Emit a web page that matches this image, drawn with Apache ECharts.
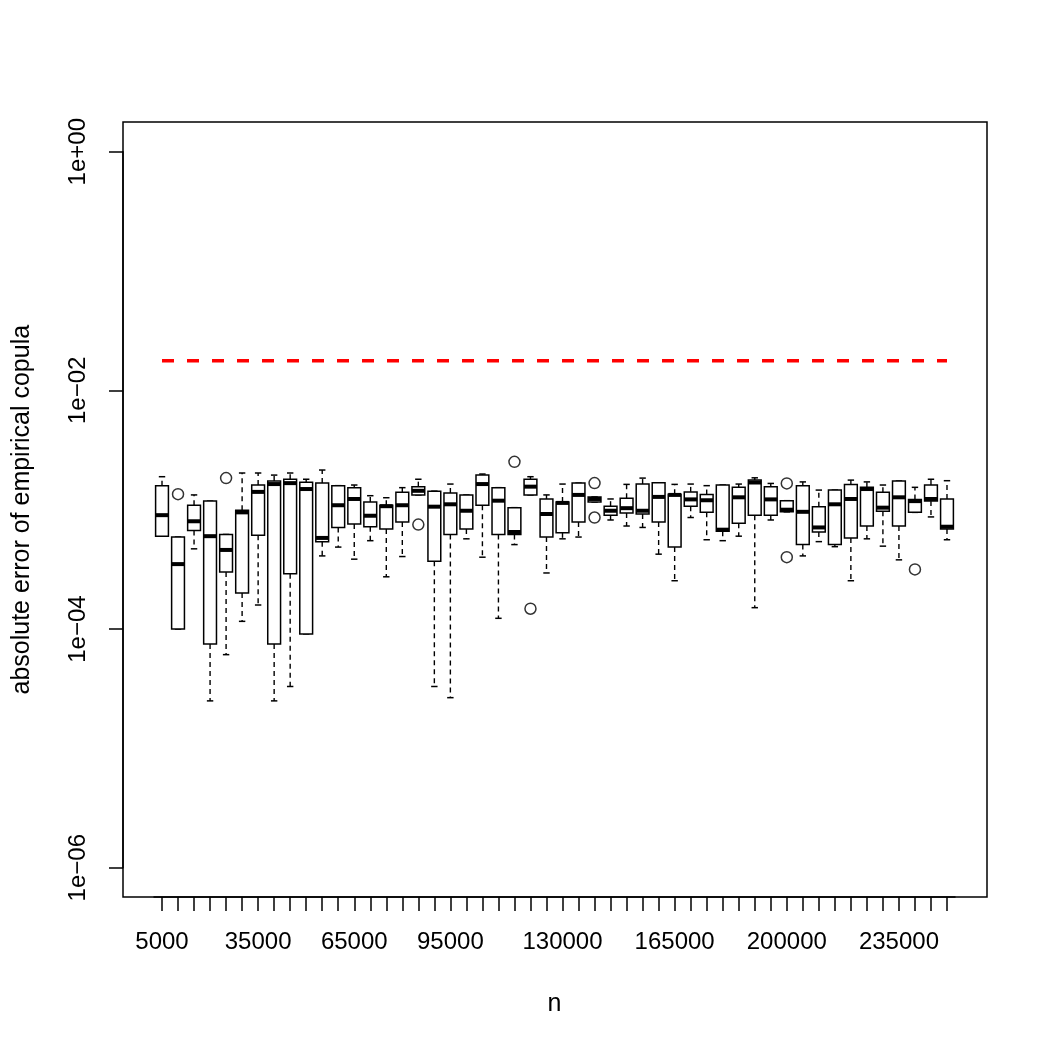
<!DOCTYPE html>
<html>
<head>
<meta charset="utf-8">
<script src="https://cdn.jsdelivr.net/npm/echarts@6/dist/echarts.min.js"></script>
<style>
  html, body { margin: 0; padding: 0; background: #fff; }
  #chart { width: 1050px; height: 1050px; }
</style>
</head>
<body>
<div id="chart"></div>
<script>
// sample sizes (one box per n)
const nValues = ['5000', '10000', '15000', '20000', '25000', '30000', '35000', '40000', '45000', '50000',
  '55000', '60000', '65000', '70000', '75000', '80000', '85000', '90000', '95000', '100000',
  '105000', '110000', '115000', '120000', '125000', '130000', '135000', '140000', '145000', '150000',
  '155000', '160000', '165000', '170000', '175000', '180000', '185000', '190000', '195000', '200000',
  '205000', '210000', '215000', '220000', '225000', '230000', '235000', '240000', '245000', '250000'];
// labels R kept on the x axis
const shownLabels = ['5000', '35000', '65000', '95000', '130000', '165000', '200000', '235000'];

// box statistics
const lowerWhisker = [6.0e-4, 1.0e-4, 4.7e-4, 2.5e-5, 6.1e-5, 1.16e-4, 1.59e-4, 2.5e-5, 3.3e-5, 9.1e-5,
  4.1e-4, 4.86e-4, 3.85e-4, 5.5e-4, 2.74e-4, 4.05e-4, 1.33e-3, 3.3e-5, 2.66e-5, 5.7e-4,
  4.0e-4, 1.23e-4, 5.1e-4, 1.33e-3, 2.95e-4, 5.7e-4, 5.9e-4, 1.16e-3, 8.2e-4, 7.3e-4,
  7.1e-4, 4.24e-4, 2.54e-4, 8.6e-4, 5.6e-4, 5.5e-4, 6.0e-4, 1.51e-4, 8.2e-4, 9.6e-4,
  4.1e-4, 5.4e-4, 4.9e-4, 2.54e-4, 5.7e-4, 4.95e-4, 3.8e-4, 9.5e-4, 8.7e-4, 5.6e-4];
const q1 = [6.0e-4, 1.0e-4, 6.7e-4, 7.5e-5, 3.0e-4, 2.0e-4, 6.1e-4, 7.5e-5, 2.9e-4, 9.1e-5,
  5.4e-4, 7.1e-4, 7.6e-4, 7.2e-4, 6.9e-4, 7.9e-4, 1.33e-3, 3.7e-4, 6.2e-4, 6.9e-4,
  1.09e-3, 6.2e-4, 6.2e-4, 1.33e-3, 5.9e-4, 6.4e-4, 7.9e-4, 1.16e-3, 9.0e-4, 9.4e-4,
  9.2e-4, 7.9e-4, 4.86e-4, 1.07e-3, 9.5e-4, 6.6e-4, 7.7e-4, 9.0e-4, 9.0e-4, 9.6e-4,
  5.1e-4, 6.5e-4, 5.1e-4, 5.8e-4, 7.3e-4, 9.7e-4, 7.3e-4, 9.5e-4, 1.18e-3, 6.9e-4];
const median = [9.0e-4, 3.5e-4, 8.0e-4, 6.0e-4, 4.6e-4, 9.5e-4, 1.41e-3, 1.64e-3, 1.67e-3, 1.49e-3,
  5.8e-4, 1.09e-3, 1.23e-3, 8.9e-4, 1.07e-3, 1.09e-3, 1.44e-3, 1.06e-3, 1.11e-3, 9.8e-4,
  1.64e-3, 1.19e-3, 6.5e-4, 1.56e-3, 9.2e-4, 1.14e-3, 1.33e-3, 1.23e-3, 9.8e-4, 1.03e-3,
  9.8e-4, 1.28e-3, 1.33e-3, 1.22e-3, 1.20e-3, 6.8e-4, 1.27e-3, 1.69e-3, 1.22e-3, 1.0e-3,
  9.6e-4, 7.1e-4, 1.11e-3, 1.23e-3, 1.49e-3, 1.04e-3, 1.27e-3, 1.18e-3, 1.23e-3, 7.2e-4];
const q3 = [1.59e-3, 5.9e-4, 1.09e-3, 1.18e-3, 6.2e-4, 9.9e-4, 1.61e-3, 1.74e-3, 1.80e-3, 1.70e-3,
  1.67e-3, 1.59e-3, 1.53e-3, 1.16e-3, 1.09e-3, 1.40e-3, 1.56e-3, 1.43e-3, 1.38e-3, 1.33e-3,
  1.95e-3, 1.53e-3, 1.04e-3, 1.80e-3, 1.23e-3, 1.16e-3, 1.67e-3, 1.28e-3, 1.07e-3, 1.25e-3,
  1.64e-3, 1.68e-3, 1.35e-3, 1.41e-3, 1.34e-3, 1.61e-3, 1.54e-3, 1.77e-3, 1.56e-3, 1.19e-3,
  1.59e-3, 1.06e-3, 1.46e-3, 1.63e-3, 1.54e-3, 1.40e-3, 1.74e-3, 1.22e-3, 1.61e-3, 1.23e-3];
const upperWhisker = [1.89e-3, 5.9e-4, 1.33e-3, 1.18e-3, 6.2e-4, 2.03e-3, 2.03e-3, 1.95e-3, 2.03e-3, 1.80e-3,
  2.15e-3, 1.59e-3, 1.61e-3, 1.31e-3, 1.26e-3, 1.53e-3, 1.80e-3, 1.43e-3, 1.64e-3, 1.33e-3,
  1.99e-3, 1.53e-3, 1.04e-3, 1.89e-3, 1.33e-3, 1.64e-3, 1.67e-3, 1.28e-3, 1.23e-3, 1.63e-3,
  1.84e-3, 1.68e-3, 1.63e-3, 1.64e-3, 1.59e-3, 1.61e-3, 1.64e-3, 1.85e-3, 1.66e-3, 1.19e-3,
  1.71e-3, 1.46e-3, 1.46e-3, 1.77e-3, 1.71e-3, 1.61e-3, 1.74e-3, 1.54e-3, 1.80e-3, 1.75e-3];

// outliers: box index and value
const outlierIndex = [1, 4, 16, 22, 23, 27, 27, 39, 39, 47];
const outlierValue = [1.35e-3, 1.84e-3, 7.5e-4, 2.52e-3, 1.48e-4, 1.67e-3, 8.6e-4, 1.66e-3, 4.0e-4, 3.16e-4];

// red dashed reference level
const threshold = 0.0177;

const FONT = 'Liberation Sans, Arial, Helvetica, sans-serif';

const boxData = nValues.map((n, i) => [i, lowerWhisker[i], q1[i], median[i], q3[i], upperWhisker[i]]);
const outlierData = outlierIndex.map((idx, k) => [idx, outlierValue[k]]);

function renderBox(params, api) {
  const i = api.value(0);
  const pLow = api.coord([i, api.value(1)]);
  const pQ1 = api.coord([i, api.value(2)]);
  const pMed = api.coord([i, api.value(3)]);
  const pQ3 = api.coord([i, api.value(4)]);
  const pHigh = api.coord([i, api.value(5)]);
  const x = pMed[0];
  const band = api.size([1, 0], [i, api.value(3)])[0];
  const hw = band * 0.4;       // boxwex 0.8
  const cw = hw * 0.5;         // staplewex 0.5
  const dashed = { stroke: '#000', lineWidth: 1.4, lineDash: [5, 4] };
  const solid = { stroke: '#000', lineWidth: 1.5 };
  return {
    type: 'group',
    children: [
      { type: 'line', shape: { x1: x, y1: pQ3[1], x2: x, y2: pHigh[1] }, style: dashed },
      { type: 'line', shape: { x1: x, y1: pQ1[1], x2: x, y2: pLow[1] }, style: dashed },
      { type: 'line', shape: { x1: x - cw, y1: pHigh[1], x2: x + cw, y2: pHigh[1] }, style: solid },
      { type: 'line', shape: { x1: x - cw, y1: pLow[1], x2: x + cw, y2: pLow[1] }, style: solid },
      { type: 'rect', shape: { x: x - hw, y: pQ3[1], width: 2 * hw, height: pQ1[1] - pQ3[1] },
        style: { fill: '#fff', stroke: '#000', lineWidth: 1.5 } },
      { type: 'line', shape: { x1: x - hw, y1: pMed[1], x2: x + hw, y2: pMed[1] },
        style: { stroke: '#000', lineWidth: 4 } }
    ]
  };
}

function expLabel(v) {
  const e = Math.round(Math.log10(v));
  return '1e' + (e < 0 ? '\u2212' : '+') + String(Math.abs(e)).padStart(2, '0');
}

const chart = echarts.init(document.getElementById('chart'), null, { renderer: 'canvas' });
chart.setOption({
  animation: false,
  backgroundColor: '#fff',
  textStyle: { fontFamily: FONT },
  grid: { left: 154, right: 95, top: 151.7, bottom: 182.3, containLabel: false },
  graphic: [
    { type: 'rect', shape: { x: 123, y: 122, width: 864, height: 775 },
      style: { fill: 'none', stroke: '#000', lineWidth: 1.5 }, z: 100 }
  ],
  xAxis: {
    type: 'category',
    data: nValues,
    offset: 29.3,
    boundaryGap: true,
    name: 'n',
    nameLocation: 'middle',
    nameGap: 95,
    nameTextStyle: { fontSize: 25, color: '#000', fontFamily: FONT },
    axisLine: { show: true, lineStyle: { color: '#000', width: 1.5 } },
    axisTick: { show: true, alignWithLabel: true, interval: 0, length: 14, lineStyle: { color: '#000', width: 1.5 } },
    axisLabel: {
      interval: (idx, val) => shownLabels.includes(val),
      margin: 33, fontSize: 24, color: '#000', fontFamily: FONT
    },
    splitLine: { show: false }
  },
  yAxis: {
    type: 'log',
    logBase: 10,
    min: 1e-6,
    max: 1,
    interval: 2,
    offset: 31,
    name: 'absolute error of empirical copula',
    nameLocation: 'middle',
    nameGap: 88,
    nameRotate: 90,
    nameTextStyle: { fontSize: 25, color: '#000', fontFamily: FONT },
    axisLine: { show: true, lineStyle: { color: '#000', width: 1.5 } },
    axisTick: { show: true, length: 14, lineStyle: { color: '#000', width: 1.5 } },
    minorTick: { show: false },
    axisLabel: {
      rotate: 90, margin: 33, fontSize: 24, color: '#000', fontFamily: FONT,
      formatter: expLabel
    },
    splitLine: { show: false }
  },
  series: [
    {
      type: 'line',
      data: [[0, threshold], [nValues.length - 1, threshold]],
      showSymbol: false,
      symbol: 'none',
      lineStyle: { color: '#ff0000', width: 3.5, type: [12, 13], cap: 'butt' },
      z: 3
    },
    {
      type: 'custom',
      data: boxData,
      encode: { x: 0, y: [1, 2, 3, 4, 5] },
      renderItem: renderBox,
      z: 4
    },
    {
      type: 'scatter',
      data: outlierData,
      symbol: 'circle',
      symbolSize: 11,
      itemStyle: { color: 'rgba(0,0,0,0)', borderColor: '#000', borderWidth: 1.5 },
      z: 5
    }
  ]
});
</script>
</body>
</html>
